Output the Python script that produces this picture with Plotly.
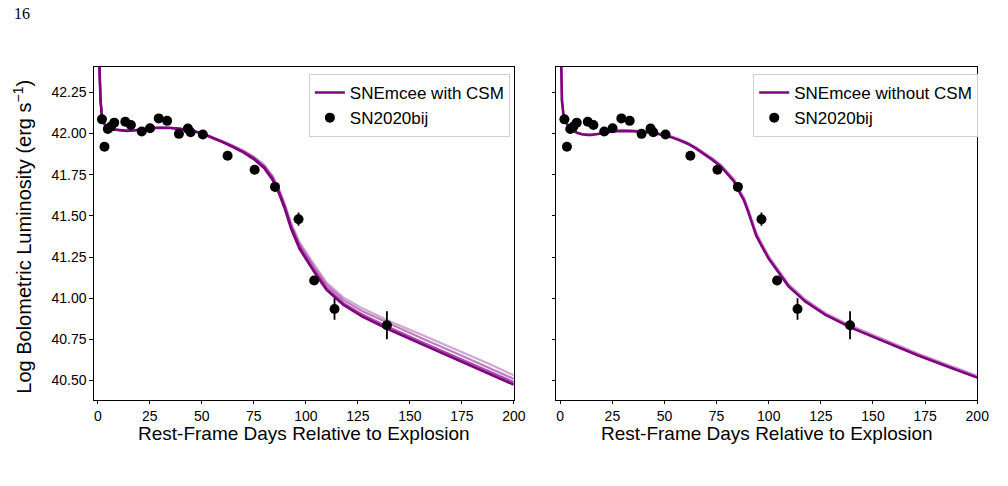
import plotly.graph_objects as go

# ---------------- data ----------------
# SN2020bij observed bolometric light curve
obs_days = [2.0, 3.2, 4.8, 6.3, 7.9, 13.2, 15.9, 21.1, 25.1, 29.3, 33.3, 39.0, 43.3, 44.6, 50.5,
            62.4, 75.4, 85.2, 96.5, 104.0, 113.8, 139.0]
obs_lum = [42.086, 41.92, 42.028, 42.042, 42.066, 42.072, 42.052, 42.012, 42.032, 42.092, 42.077,
           41.998, 42.03, 42.008, 41.994, 41.865, 41.78, 41.676, 41.48, 41.108, 40.935, 40.836]
obs_err = [0.01, 0.01, 0.01, 0.01, 0.01, 0.01, 0.01, 0.01, 0.01, 0.01, 0.01,
           0.01, 0.01, 0.01, 0.01, 0.01, 0.01, 0.012, 0.04, 0.015, 0.065, 0.085]

# SNEmcee model with CSM (left panel): best sample + lighter samples
csm_days = [0.3, 0.8, 1.3, 2.0, 3.0, 4.0, 6.0, 8.0, 11, 14, 18, 22, 26, 30, 35, 40, 45, 50, 55,
            60, 65, 70, 75, 80, 84, 87, 90, 93, 97, 100, 104, 110, 118, 127, 140, 156, 172, 188, 200]
csm_lum_main = [42.60, 42.33, 42.20, 42.10, 42.06, 42.045, 42.03, 42.024, 42.018, 42.016, 42.02,
                42.027, 42.033, 42.035, 42.034, 42.028, 42.018, 42.0, 41.975, 41.948, 41.918,
                41.885, 41.845, 41.79, 41.72, 41.64, 41.54, 41.42, 41.30, 41.24, 41.16, 41.05,
                40.96, 40.89, 40.81, 40.72, 40.632, 40.545, 40.475]
csm_lum_s1 = [42.60, 42.33, 42.20, 42.10, 42.06, 42.045, 42.03, 42.024, 42.018, 42.016, 42.02,
              42.027, 42.033, 42.035, 42.034, 42.028, 42.018, 42.0, 41.976, 41.949, 41.919,
              41.887, 41.848, 41.795, 41.727, 41.648, 41.548, 41.428, 41.31, 41.25, 41.17, 41.062,
              40.972, 40.902, 40.823, 40.733, 40.646, 40.558, 40.49]
csm_lum_s2 = [42.60, 42.33, 42.20, 42.10, 42.06, 42.045, 42.03, 42.024, 42.018, 42.016, 42.02,
              42.027, 42.033, 42.035, 42.034, 42.028, 42.019, 42.002, 41.978, 41.952, 41.923,
              41.892, 41.855, 41.803, 41.735, 41.657, 41.558, 41.44, 41.325, 41.265, 41.188, 41.08,
              40.99, 40.922, 40.845, 40.755, 40.668, 40.58, 40.51]
csm_lum_s3 = [42.60, 42.33, 42.20, 42.10, 42.06, 42.045, 42.03, 42.024, 42.018, 42.016, 42.02,
              42.027, 42.033, 42.035, 42.034, 42.028, 42.019, 42.003, 41.98, 41.955, 41.927,
              41.897, 41.86, 41.81, 41.745, 41.667, 41.57, 41.455, 41.34, 41.28, 41.205, 41.095,
              41.005, 40.94, 40.862, 40.776, 40.69, 40.602, 40.532]

# SNEmcee model without CSM (right panel)
nocsm_days = [0.2, 0.8, 1.5, 2.4, 4.0, 5.6, 8.0, 10.3, 13, 15, 18, 21.4, 25, 29.4, 33, 37.3, 41,
              45.2, 50, 53.2, 57, 61.1, 65, 69, 73, 77, 80, 83.3, 86.5, 88.1, 90, 92, 94, 96.8,
              100, 103.2, 109.5, 117.5, 127, 139.7, 155.6, 171.4, 187.3, 200]
nocsm_lum_main = [42.60, 42.20, 42.12, 42.08, 42.04, 42.022, 42.005, 41.996, 41.992, 41.992,
                  41.997, 42.006, 42.012, 42.016, 42.016, 42.012, 42.008, 42.002, 41.988, 41.978,
                  41.96, 41.938, 41.91, 41.877, 41.84, 41.80, 41.76, 41.71, 41.63, 41.595, 41.53,
                  41.455, 41.38, 41.313, 41.24, 41.183, 41.072, 40.981, 40.90, 40.82, 40.735,
                  40.654, 40.578, 40.518]
nocsm_lum_s1 = [42.60, 42.20, 42.12, 42.08, 42.04, 42.022, 42.005, 41.997, 41.993, 41.993,
                41.998, 42.007, 42.014, 42.019, 42.02, 42.016, 42.012, 42.006, 41.993, 41.983,
                41.966, 41.944, 41.917, 41.885, 41.849, 41.81, 41.771, 41.722, 41.645, 41.61, 41.545,
                41.47, 41.395, 41.328, 41.254, 41.196, 41.084, 40.992, 40.91, 40.83, 40.745,
                40.664, 40.588, 40.528]

# ---------------- figure ----------------
W, H = 1008, 486
def px_x(p):
    return p / W
def px_y(p):
    return 1 - p / H

purple = "rgb(128,0,128)"
fig = go.Figure()

# left panel model samples
for ys, col, w in [(csm_lum_s3, "rgba(128,0,128,0.35)", 2.2),
                   (csm_lum_s2, "rgba(128,0,128,0.5)", 2.2),
                   (csm_lum_s1, "rgba(128,0,128,0.7)", 2.2)]:
    fig.add_trace(go.Scatter(x=csm_days, y=ys, mode="lines", line=dict(color=col, width=w),
                             showlegend=False, hoverinfo="skip", xaxis="x", yaxis="y"))
fig.add_trace(go.Scatter(x=csm_days, y=csm_lum_main, mode="lines", name="SNEmcee with CSM",
                         line=dict(color=purple, width=2.6), legend="legend", xaxis="x", yaxis="y"))
fig.add_trace(go.Scatter(x=obs_days, y=obs_lum, mode="markers", name="SN2020bij",
                         marker=dict(color="black", size=10),
                         error_y=dict(type="data", array=obs_err, color="black", thickness=1.8, width=0),
                         legend="legend", xaxis="x", yaxis="y"))

# right panel
fig.add_trace(go.Scatter(x=nocsm_days, y=nocsm_lum_s1, mode="lines",
                         line=dict(color="rgba(128,0,128,0.45)", width=2.4),
                         showlegend=False, hoverinfo="skip", xaxis="x2", yaxis="y2"))
fig.add_trace(go.Scatter(x=nocsm_days, y=nocsm_lum_main, mode="lines", name="SNEmcee without CSM",
                         line=dict(color=purple, width=2.6), legend="legend2", xaxis="x2", yaxis="y2"))
fig.add_trace(go.Scatter(x=obs_days, y=obs_lum, mode="markers", name="SN2020bij",
                         marker=dict(color="black", size=10),
                         error_y=dict(type="data", array=obs_err, color="black", thickness=1.8, width=0),
                         legend="legend2", xaxis="x2", yaxis="y2"))

FONT = "Liberation Sans, Arial, sans-serif"
xticks = [0, 25, 50, 75, 100, 125, 150, 175, 200]
yticks = [40.5, 40.75, 41.0, 41.25, 41.5, 41.75, 42.0, 42.25]
ytext = ["40.50", "40.75", "41.00", "41.25", "41.50", "41.75", "42.00", "42.25"]
axis_common = dict(showline=True, linecolor="black", linewidth=1, mirror=True, ticks="outside",
                   ticklen=3.5, tickwidth=1, tickcolor="black", showgrid=False, zeroline=False,
                   tickfont=dict(family=FONT, size=14, color="black"))
xr = [-1.9, 200]
yr = [40.385, 42.407]
TOP, BOT = 66.5, 399.5

fig.update_layout(
    width=W, height=H, margin=dict(l=0, r=0, t=0, b=0),
    paper_bgcolor="white", plot_bgcolor="white",
    xaxis=dict(domain=[px_x(95), px_x(520)], range=xr, tickvals=xticks, anchor="y", **axis_common),
    yaxis=dict(domain=[px_y(BOT), px_y(TOP)], range=yr, tickvals=yticks, ticktext=ytext,
               anchor="x", **axis_common),
    xaxis2=dict(domain=[px_x(563), px_x(989)], range=xr, tickvals=xticks, anchor="y2", **axis_common),
    yaxis2=dict(domain=[px_y(BOT), px_y(TOP)], range=yr, tickvals=yticks, showticklabels=False,
                anchor="x2", **axis_common),
    legend=dict(x=px_x(516), y=px_y(74), xanchor="right", yanchor="top",
                bordercolor="#d0d0d0", borderwidth=1, bgcolor="white",
                font=dict(family=FONT, size=17, color="black"), tracegroupgap=0),
    legend2=dict(x=px_x(990), y=px_y(74), xanchor="right", yanchor="top",
                 bordercolor="#d0d0d0", borderwidth=1, bgcolor="white",
                 font=dict(family=FONT, size=17, color="black"), tracegroupgap=0),
    annotations=[
        dict(text="16", x=px_x(12), y=px_y(14), xref="paper", yref="paper", showarrow=False,
             xanchor="left", yanchor="middle",
             font=dict(family="Liberation Serif, DejaVu Serif, serif", size=16, color="black")),
        dict(text="Log Bolometric Luminosity (erg s<sup>\u22121</sup>)", x=px_x(23), y=px_y(237),
             xref="paper", yref="paper", showarrow=False, textangle=-90,
             xanchor="center", yanchor="middle", font=dict(family=FONT, size=20, color="black")),
        dict(text="Rest-Frame Days Relative to Explosion", x=px_x(307.5), y=px_y(433),
             xref="paper", yref="paper", showarrow=False, xanchor="center", yanchor="middle",
             font=dict(family=FONT, size=19, color="black")),
        dict(text="Rest-Frame Days Relative to Explosion", x=px_x(776), y=px_y(433),
             xref="paper", yref="paper", showarrow=False, xanchor="center", yanchor="middle",
             font=dict(family=FONT, size=19, color="black")),
    ],
)

fig.write_html("out.html")
